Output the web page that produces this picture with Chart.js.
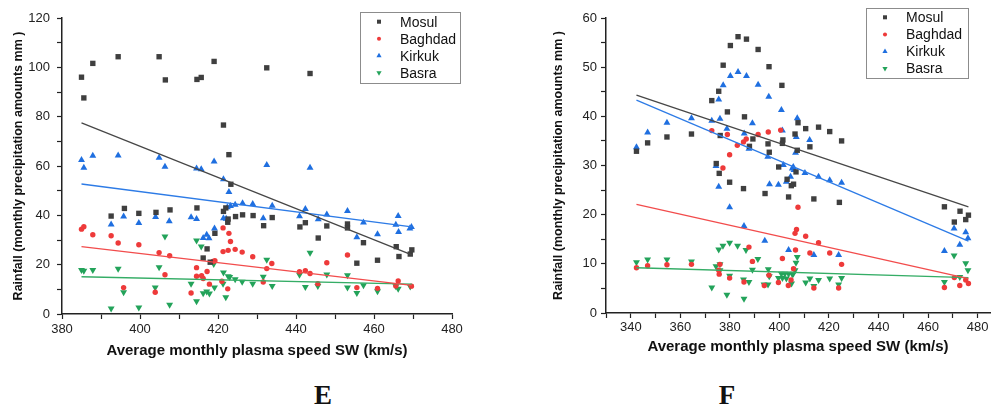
<!DOCTYPE html>
<html>
<head>
<meta charset="utf-8">
<script src="https://cdn.jsdelivr.net/npm/chart.js@4.4.1/dist/chart.umd.min.js"></script>
<style>
  body { margin: 0; background: #fff; width: 994px; height: 408px; position: relative; overflow: hidden; }
  #chartE { position: absolute; left: 0; top: 0; }
  #chartF { position: absolute; left: 530px; top: 0; }
  .panel-label { position: absolute; top: 380px; width: 40px; text-align: center;
    font-family: "Liberation Serif", "Times New Roman", serif; font-weight: bold; font-size: 27px; color: #111; }
</style>
</head>
<body>
<canvas id="chartE" width="497" height="370"></canvas>
<canvas id="chartF" width="464" height="370"></canvas>
<div class="panel-label" style="left:303px">E</div>
<div class="panel-label" style="left:707px">F</div>
<script>
// ---- panel E : [plasma speed km/s, rainfall mm] ----
var mosulE = [[385.0,96.0],[385.6,87.6],[387.9,101.6],[394.4,104.3],[404.9,104.3],[406.5,94.9],[414.6,95.1],[415.7,95.9],
  [419.0,102.4],[421.4,76.6],[422.8,64.6],[423.3,52.6],[432.5,99.8],[443.6,97.5],[392.6,39.7],[396.0,42.8],[399.7,40.8],
  [404.1,41.2],[407.7,42.2],[414.6,43.0],[421.4,41.6],[422.0,43.0],[422.6,38.5],[422.5,37.2],[424.5,39.5],[419.2,32.7],
  [417.2,26.4],[416.2,22.7],[418.0,21.0],[426.3,40.2],[429.0,39.9],[433.9,39.1],[431.7,35.8],[441.0,35.3],[442.4,37.0],
  [445.7,30.8],[447.9,35.7],[453.2,36.5],[453.2,34.9],[457.3,28.9],[455.6,20.6],[460.9,21.8],[465.7,27.3],[466.4,23.3],
  [469.3,24.3],[469.7,26.0]];
var baghdadE = [[385.0,34.4],[385.6,35.4],[387.9,32.1],[392.6,31.7],[394.4,28.8],[399.7,28.1],[404.9,24.9],[407.6,23.6],
  [395.8,10.7],[403.9,8.8],[406.4,15.9],[414.5,18.8],[414.5,15.3],[415.8,15.5],[416.2,14.4],[417.2,17.2],[413.1,8.5],
  [417.8,12.1],[418.7,21.3],[419.2,21.6],[421.3,34.9],[422.8,32.7],[423.2,29.4],[421.3,25.3],[422.6,25.8],[424.4,26.2],
  [422.5,10.2],[421.0,13.3],[426.2,25.1],[428.9,23.2],[433.8,20.5],[432.5,18.4],[440.9,17.1],[442.4,17.6],[443.6,16.4],
  [447.9,20.8],[453.2,23.9],[431.6,13.0],[445.6,12.3],[455.6,10.7],[460.9,10.4],[466.2,13.4],[465.6,11.4],[469.6,11.3]];
var kirkukE = [[385.0,62.4],[385.6,59.3],[387.9,64.2],[394.4,64.3],[404.9,63.3],[406.4,59.7],[414.5,59.0],[415.7,58.7],
  [419.0,61.8],[421.4,54.6],[422.8,49.5],[422.4,43.3],[423.2,43.8],[424.4,44.3],[392.6,36.3],[395.8,39.5],[399.7,36.9],
  [404.0,39.3],[407.5,37.6],[413.1,39.2],[414.5,38.5],[417.1,32.1],[416.2,30.8],[417.7,30.7],[419.1,34.7],[421.4,38.8],
  [422.1,38.6],[432.5,60.4],[443.6,59.3],[426.3,44.9],[428.9,44.6],[433.9,43.9],[431.6,38.8],[442.4,42.6],[440.9,39.6],
  [445.7,38.4],[447.9,40.3],[453.2,41.8],[457.3,37.1],[455.6,31.1],[460.9,32.3],[466.2,39.7],[466.3,33.2],[465.6,36.2],
  [469.6,35.3],[469.2,34.7]];
var basraE = [[385.0,17.8],[385.6,17.5],[387.9,17.8],[394.4,18.3],[392.6,2.2],[395.8,8.8],[399.7,2.6],[403.9,10.7],
  [404.9,19.0],[406.4,31.4],[407.6,3.7],[413.1,12.3],[414.5,29.8],[414.5,5.2],[415.7,27.4],[416.2,8.4],[417.1,9.1],
  [417.8,8.3],[419.1,10.7],[418.9,20.3],[421.4,16.8],[421.3,12.3],[422.0,6.8],[422.6,15.3],[423.0,15.0],[424.4,14.1],
  [426.2,13.1],[428.9,12.3],[431.6,15.1],[432.5,22.0],[433.9,11.4],[440.9,15.9],[442.4,10.9],[443.6,24.8],[445.6,11.4],
  [447.9,16.0],[453.2,15.7],[453.2,10.7],[455.6,8.5],[457.3,11.7],[460.9,9.2],[465.6,11.3],[466.2,10.2],[469.3,11.1]];

// linear fit lines of panel E (end points)
var mosulFitE = [[385,77.5],[469.7,24.0]];
var baghdadFitE = [[385,27.3],[469.7,11.6]];
var kirkukFitE = [[385,52.7],[469.7,35.3]];
var basraFitE = [[385,15.1],[469.7,12.1]];

// ---- panel F ----
var mosulF = [[342.3,32.9],[346.8,34.6],[354.6,35.8],[364.5,36.4],[372.7,43.2],[375.5,45.1],[377.3,50.4],[380.2,54.4],
  [383.3,56.2],[386.7,55.7],[391.4,53.6],[395.8,50.1],[401.0,46.3],[379.0,40.9],[385.9,39.9],[376.1,36.1],[389.3,35.4],
  [387.9,33.9],[395.4,34.4],[395.9,32.7],[401.4,35.2],[401.2,34.5],[406.3,36.4],[407.2,33.1],[374.5,30.4],[375.7,28.4],
  [379.9,26.6],[385.5,25.3],[394.2,24.3],[399.7,29.7],[403.7,23.6],[403.1,27.2],[404.8,25.9],[405.7,26.2],[406.7,28.7],
  [407.5,38.7],[410.6,37.5],[415.8,37.8],[420.3,36.9],[425.1,35.0],[412.3,33.8],[413.9,23.2],[424.2,22.5],[466.6,21.6],
  [472.9,20.7],[470.6,18.5],[475.2,19.0],[476.3,19.9]];
var baghdadF = [[342.3,9.2],[346.8,9.6],[354.6,9.8],[364.5,9.9],[372.7,37.1],[375.5,8.7],[375.7,7.9],[376.0,9.9],
  [377.2,29.5],[379.0,36.3],[379.9,32.2],[379.9,7.1],[383.0,34.1],[385.5,34.8],[386.6,35.4],[385.7,6.3],[387.7,13.4],
  [389.1,10.5],[391.4,36.3],[395.5,36.8],[395.8,7.7],[393.9,5.6],[400.5,37.2],[401.2,11.1],[399.6,6.2],[403.6,5.6],
  [404.7,6.7],[406.5,12.8],[406.9,17.0],[406.3,16.2],[407.5,21.5],[410.6,15.6],[415.8,14.3],[412.3,12.2],[420.3,12.2],
  [425.1,9.9],[405.7,9.0],[413.9,5.1],[423.9,5.1],[466.6,5.2],[472.8,5.6],[470.6,7.2],[475.2,6.7],[476.3,6.0]];
var kirkukF = [[342.3,33.7],[346.8,36.7],[354.6,38.7],[364.5,39.6],[372.7,39.1],[375.5,43.4],[377.3,46.3],[380.2,48.2],
  [383.3,49.0],[386.7,48.2],[391.4,46.4],[395.7,44.0],[400.8,41.3],[376.0,39.5],[378.8,37.5],[385.8,36.5],[389.1,38.6],
  [387.7,33.4],[395.3,31.8],[401.2,37.1],[401.6,30.1],[406.5,32.6],[406.8,35.8],[407.2,39.6],[374.4,29.9],[375.5,25.7],
  [379.9,21.5],[385.7,17.7],[394.1,14.7],[396.0,26.2],[399.6,26.1],[403.7,12.8],[405.2,29.4],[405.9,29.1],[402.8,26.7],
  [404.5,27.7],[412.2,35.2],[405.6,29.7],[410.3,28.5],[415.8,27.7],[420.3,27.0],[425.1,26.5],[413.9,11.8],[423.9,11.8],
  [466.6,12.6],[472.8,13.9],[470.5,17.2],[475.2,16.4],[476.1,15.2]];
var basraF = [[342.3,10.3],[346.8,10.9],[354.6,10.9],[364.5,10.5],[372.7,5.2],[374.4,9.5],[375.5,12.9],[376.0,9.9],
  [376.0,8.7],[377.2,13.7],[378.8,3.7],[379.9,14.3],[379.9,7.6],[383.1,13.7],[385.7,2.9],[385.5,6.8],[386.5,12.8],
  [387.7,6.3],[389.1,8.8],[391.3,11.0],[393.8,5.8],[395.4,5.8],[395.5,8.9],[395.9,7.5],[399.6,7.1],[400.8,8.0],
  [401.2,7.1],[402.2,8.0],[402.8,7.0],[403.7,8.0],[405.2,7.9],[406.3,8.7],[406.7,10.2],[407.2,11.4],[405.6,8.0],
  [404.9,6.0],[410.6,6.2],[412.3,7.0],[413.9,5.5],[415.8,6.7],[420.3,7.0],[423.9,5.8],[425.1,7.1],[466.6,6.3],
  [470.5,11.7],[472.8,7.3],[475.2,10.1],[476.1,8.7]];

var mosulFitF = [[342.3,44.3],[476.3,21.6]];
var baghdadFitF = [[342.3,22.1],[476.3,7.0]];
var kirkukFitF = [[342.3,43.3],[476.3,14.6]];
var basraFitF = [[342.3,9.2],[476.3,7.2]];

var cities = ['Mosul', 'Baghdad', 'Kirkuk', 'Basra'];

// marker / line look for every city
var looks = {
  Mosul:   { color: '#3f3f3f', line: '#474747', pointStyle: 'rect',     radius: 3.8, rotation: 0 },
  Baghdad: { color: '#ee3a3a', line: '#f24c4c', pointStyle: 'circle',   radius: 2.7, rotation: 0 },
  Kirkuk:  { color: '#1f6fe0', line: '#2d7be6', pointStyle: 'triangle', radius: 4, rotation: 0 },
  Basra:   { color: '#23a35a', line: '#35ad66', pointStyle: 'triangle', radius: 4, rotation: 180 }
};

var fontFamily = '"Liberation Sans", Arial, sans-serif';

function toXY(arr) {
  return arr.map(function (p) { return { x: p[0], y: p[1] }; });
}

function buildDatasets(points, fits) {
  var sets = [];
  cities.forEach(function (c, i) {
    var lk = looks[c];
    sets.push({
      label: c + ' fit',
      data: toXY(fits[i]),
      showLine: true,
      borderColor: lk.line,
      borderWidth: 1.3,
      pointRadius: 0,
      fill: false
    });
  });
  cities.forEach(function (c, i) {
    var lk = looks[c];
    sets.push({
      label: c,
      data: toXY(points[i]),
      showLine: false,
      pointStyle: lk.pointStyle,
      rotation: lk.rotation,
      pointRadius: lk.radius,
      pointBackgroundColor: lk.color,
      pointBorderWidth: 0,
      borderColor: lk.color
    });
  });
  return sets;
}

function drawMarker(ctx, lk, x, y, k) {
  var r = lk.radius * k;
  ctx.fillStyle = lk.color;
  ctx.beginPath();
  if (lk.pointStyle === 'rect') {
    var s = r * Math.SQRT1_2;
    ctx.rect(x - s, y - s, 2 * s, 2 * s);
  } else if (lk.pointStyle === 'circle') {
    ctx.arc(x, y, r, 0, Math.PI * 2);
  } else {
    var d = lk.rotation === 180 ? -1 : 1;
    ctx.moveTo(x, y - d * r);
    ctx.lineTo(x - r * 0.866, y + d * r * 0.5);
    ctx.lineTo(x + r * 0.866, y + d * r * 0.5);
    ctx.closePath();
  }
  ctx.fill();
}

// framed legend drawn inside the plot, like the original figure
var boxLegend = {
  id: 'boxLegend',
  afterDraw: function (chart, args, o) {
    var ctx = chart.ctx;
    ctx.save();
    ctx.strokeStyle = '#8c8c8c';
    ctx.lineWidth = 1;
    ctx.strokeRect(o.left + 0.5, o.top + 0.5, o.width, o.height);
    ctx.font = '14px ' + fontFamily;
    ctx.textBaseline = 'middle';
    cities.forEach(function (c, i) {
      var y = o.top + o.firstRow + i * o.rowGap;
      drawMarker(ctx, looks[c], o.symbolX, y, 0.75);
      ctx.fillStyle = '#111';
      ctx.fillText(c, o.textX, y + 1);
    });
    ctx.restore();
  }
};

function makeOptions(cfg) {
  return {
    responsive: false,
    animation: false,
    layout: { padding: cfg.padding },
    plugins: {
      legend: { display: false },
      tooltip: { enabled: false },
      boxLegend: cfg.legend
    },
    scales: {
      x: {
        type: 'linear',
        min: cfg.xMin,
        max: cfg.xMax,
        afterFit: function (s) { s.height = cfg.xHeight; },
        border: { color: '#222', width: 1.5 },
        grid: { drawOnChartArea: false, tickLength: 5, tickColor: '#222', tickWidth: 1.2 },
        ticks: {
          stepSize: 10,
          includeBounds: false,
          autoSkip: false,
          maxRotation: 0,
          padding: cfg.xTickPad,
          color: '#222',
          font: { size: 13, family: fontFamily },
          callback: function (v) { return (v - cfg.xLabelFrom) % 20 === 0 ? v : ''; }
        },
        title: {
          display: true,
          text: 'Average monthly plasma speed SW (km/s)',
          color: '#111',
          font: { size: 15, weight: 'bold', family: fontFamily },
          padding: { top: 0, bottom: cfg.xTitlePad }
        }
      },
      y: {
        min: 0,
        max: cfg.yMax,
        afterFit: function (s) { s.width = cfg.yWidth; },
        border: { color: '#222', width: 1.5 },
        grid: { drawOnChartArea: false, tickLength: 5, tickColor: '#222', tickWidth: 1.2 },
        ticks: {
          stepSize: cfg.yStep,
          autoSkip: false,
          padding: cfg.yTickPad,
          color: '#222',
          font: { size: 13, family: fontFamily },
          callback: function (v) { return v % (cfg.yStep * 2) === 0 ? v : ''; }
        },
        title: {
          display: true,
          text: 'Rainfall (monthly precipitation amounts mm )',
          color: '#111',
          font: { size: 12.5, weight: 'bold', family: fontFamily },
          padding: { top: cfg.yTitlePad, bottom: 0 }
        }
      }
    }
  };
}

function createCharts() {
  new Chart(document.getElementById('chartE'), {
    type: 'scatter',
    data: { datasets: buildDatasets([mosulE, baghdadE, kirkukE, basraE],
                                    [mosulFitE, baghdadFitE, kirkukFitE, basraFitE]) },
    options: makeOptions({
      padding: { top: 18, left: 0, right: 45, bottom: 0 },
      xMin: 380, xMax: 480, xLabelFrom: 380, xHeight: 56, xTickPad: 3, xTitlePad: 10,
      yMax: 120, yStep: 10, yWidth: 62, yTickPad: 7, yTitlePad: 11,
      legend: { left: 360, top: 12, width: 100, height: 71, firstRow: 9.7, rowGap: 17, symbolX: 379, textX: 400 }
    }),
    plugins: [boxLegend]
  });

  new Chart(document.getElementById('chartF'), {
    type: 'scatter',
    data: { datasets: buildDatasets([mosulF, baghdadF, kirkukF, basraF],
                                    [mosulFitF, baghdadFitF, kirkukFitF, basraFitF]) },
    options: makeOptions({
      padding: { top: 18, left: 0, right: 1, bottom: 0 },
      xMin: 330, xMax: 485, xLabelFrom: 340, xHeight: 57, xTickPad: 2, xTitlePad: 14,
      yMax: 60, yStep: 5, yWidth: 76, yTickPad: 4, yTitlePad: 21,
      legend: { left: 336, top: 8, width: 102, height: 70, firstRow: 9.3, rowGap: 17.1, symbolX: 355, textX: 376 }
    }),
    plugins: [boxLegend]
  });
}

window.onload = function () {
  createCharts();
};
</script>
</body>
</html>
